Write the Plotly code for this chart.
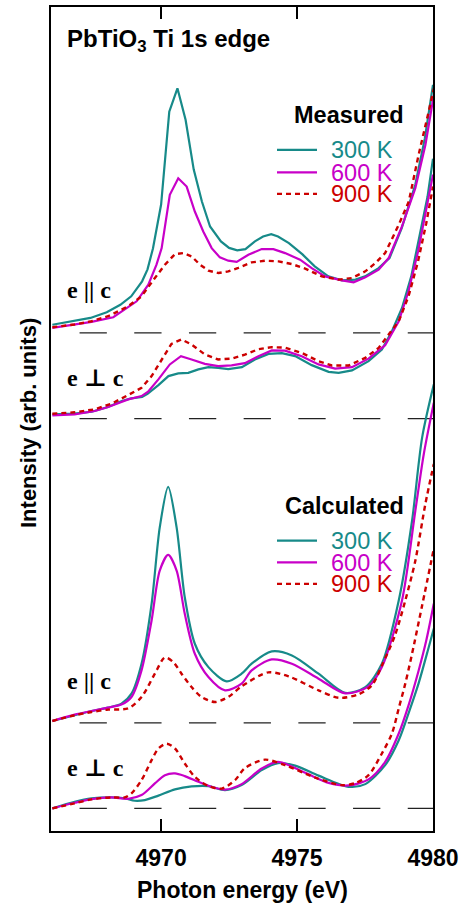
import plotly.graph_objects as go

# ---------------- data (photon energy in eV, intensity in arb. units relative to each baseline) -------------
# Measured, e || c
mpar300_E = [4966.0, 4966.8, 4967.4, 4968.0, 4968.5, 4968.9, 4969.3, 4969.5, 4969.7, 4970.0, 4970.3, 4970.6,
             4970.9, 4971.2, 4971.5, 4971.8, 4972.2, 4972.5, 4972.8, 4973.1, 4973.45, 4973.75, 4974.05, 4974.3,
             4974.7, 4975.2, 4975.65, 4976.15, 4976.65, 4977.15, 4977.5, 4978.0, 4978.4, 4978.85, 4979.35,
             4979.7, 4980.0]
mpar300_I = [0.082, 0.117, 0.150, 0.207, 0.282, 0.367, 0.517, 0.637, 0.847, 1.287, 2.217, 2.452,
             2.137, 1.637, 1.317, 1.067, 0.917, 0.852, 0.827, 0.840, 0.917, 0.967, 0.990, 0.967,
             0.900, 0.787, 0.667, 0.567, 0.527, 0.534, 0.567, 0.650, 0.750, 1.050, 1.487,
             1.950, 2.487]
mpar600_E = [4966.0, 4966.82, 4967.44, 4968.24, 4968.66, 4969.1, 4969.53, 4969.83, 4970.02, 4970.32, 4970.63,
             4970.94, 4971.24, 4971.55, 4971.86, 4972.16, 4972.47, 4972.78, 4973.21, 4973.7, 4974.13, 4974.56,
             4975.11, 4975.54, 4976.03, 4976.65, 4977.08, 4977.51, 4978.0, 4978.37, 4978.86, 4979.35,
             4979.72, 4980.03]
mpar600_I = [0.050, 0.084, 0.110, 0.157, 0.234, 0.317, 0.484, 0.684, 0.850, 1.384, 1.550,
             1.467, 1.217, 1.017, 0.850, 0.757, 0.724, 0.712, 0.784, 0.840, 0.840, 0.800,
             0.734, 0.650, 0.567, 0.527, 0.507, 0.557, 0.634, 0.750, 1.067, 1.450,
             1.884, 2.384]
mpar900_E = [4966.0, 4966.82, 4967.44, 4968.05, 4968.79, 4969.28, 4969.77, 4970.14, 4970.51, 4970.82, 4971.12,
             4971.43, 4971.74, 4972.11, 4972.47, 4972.84, 4973.33, 4973.82, 4974.32, 4974.81, 4975.3, 4975.91,
             4976.53, 4977.02, 4977.51, 4977.88, 4978.24, 4978.74, 4979.11, 4979.47, 4979.84, 4980.03]
mpar900_I = [0.057, 0.084, 0.117, 0.167, 0.267, 0.367, 0.550, 0.684, 0.790, 0.800, 0.767,
             0.684, 0.624, 0.600, 0.617, 0.652, 0.707, 0.724, 0.717, 0.690, 0.644, 0.567,
             0.534, 0.550, 0.617, 0.700, 0.800, 1.084, 1.317, 1.784, 2.217, 2.450]

# Measured, e perp c
mper300_E = [4966.0, 4966.8, 4967.45, 4968.05, 4968.55, 4968.9, 4969.3, 4969.5, 4969.9, 4970.27, 4970.63,
             4971.0, 4971.37, 4971.74, 4972.1, 4972.47, 4972.97, 4973.45, 4973.95, 4974.44, 4974.93, 4975.54,
             4976.16, 4976.53, 4977.02, 4977.63, 4978.12, 4978.49, 4978.86, 4979.2, 4979.5, 4979.8, 4980.0]
mper300_I = [0.044, 0.050, 0.070, 0.117, 0.177, 0.204, 0.217, 0.250, 0.337, 0.427, 0.454,
             0.460, 0.494, 0.517, 0.510, 0.497, 0.517, 0.594, 0.650, 0.657, 0.627, 0.537,
             0.470, 0.460, 0.484, 0.577, 0.694, 0.877, 1.110, 1.427, 1.827, 2.227, 2.607]
mper600_E = [4966.0, 4966.82, 4967.56, 4968.05, 4968.79, 4969.28, 4969.52, 4969.9, 4970.32, 4970.73, 4971.12,
             4971.61, 4972.1, 4972.59, 4973.08, 4973.58, 4974.07, 4974.56, 4975.17, 4975.79, 4976.4, 4977.02,
             4977.63, 4978.24, 4978.74, 4979.1, 4979.45, 4979.75, 4980.0]
mper600_I = [0.034, 0.044, 0.077, 0.117, 0.194, 0.227, 0.270, 0.394, 0.544, 0.627, 0.594,
             0.550, 0.527, 0.534, 0.557, 0.627, 0.684, 0.682, 0.627, 0.544, 0.502, 0.517,
             0.602, 0.737, 0.977, 1.277, 1.677, 2.077, 2.447]
mper900_E = [4966.0, 4966.82, 4967.56, 4968.17, 4968.79, 4969.28, 4969.65, 4970.02, 4970.38, 4970.75, 4971.12,
             4971.61, 4972.1, 4972.59, 4973.08, 4973.58, 4974.07, 4974.56, 4975.17, 4975.79, 4976.28, 4976.9,
             4977.51, 4978.0, 4978.37, 4978.74, 4979.1, 4979.45, 4979.75, 4980.0]
mper900_I = [0.050, 0.064, 0.094, 0.150, 0.237, 0.310, 0.427, 0.594, 0.750, 0.794, 0.744,
             0.644, 0.594, 0.602, 0.642, 0.697, 0.717, 0.712, 0.660, 0.577, 0.534, 0.534,
             0.610, 0.710, 0.844, 0.977, 1.227, 1.577, 1.957, 2.327]

# Calculated, e || c
cpar300_E = [4966.0, 4966.82, 4967.44, 4968.05, 4968.54, 4968.91, 4969.28, 4969.65, 4969.95, 4970.26, 4970.57,
             4970.87, 4971.24, 4971.74, 4972.41, 4972.96, 4973.33, 4974.07, 4974.81, 4975.79, 4976.77, 4977.51,
             4978.12, 4978.74, 4979.23, 4979.6, 4980.03]
cpar300_I = [0.020, 0.077, 0.120, 0.154, 0.194, 0.294, 0.594, 1.194, 1.960, 2.367, 1.960,
             1.260, 0.794, 0.560, 0.417, 0.494, 0.594, 0.717, 0.677, 0.494, 0.302, 0.360,
             0.594, 1.227, 2.027, 2.860, 3.394]
cpar600_E = [4966.0, 4966.82, 4967.44, 4968.05, 4968.54, 4968.91, 4969.28, 4969.65, 4969.95, 4970.26, 4970.57,
             4970.87, 4971.24, 4971.74, 4972.35, 4972.96, 4973.33, 4974.07, 4974.81, 4975.79, 4976.77, 4977.63,
             4978.12, 4978.86, 4979.35, 4979.66, 4980.03]
cpar600_I = [0.020, 0.084, 0.120, 0.154, 0.184, 0.260, 0.527, 1.027, 1.527, 1.684, 1.527,
             1.094, 0.694, 0.460, 0.327, 0.394, 0.527, 0.637, 0.594, 0.444, 0.297, 0.367,
             0.560, 1.227, 2.127, 2.694, 3.210]
cpar900_E = [4966.0, 4966.82, 4967.44, 4968.05, 4968.79, 4969.28, 4969.77, 4970.14, 4970.45, 4970.75, 4971.12,
             4971.49, 4971.98, 4972.47, 4972.96, 4973.94, 4974.69, 4975.79, 4976.53, 4977.26, 4977.75, 4978.12,
             4978.6, 4978.98, 4979.35, 4979.72, 4980.03]
cpar900_I = [0.020, 0.077, 0.110, 0.134, 0.147, 0.260, 0.494, 0.657, 0.610, 0.494, 0.360,
             0.260, 0.210, 0.260, 0.367, 0.507, 0.467, 0.327, 0.252, 0.287, 0.377, 0.577,
             0.877, 1.227, 1.627, 2.197, 2.597]

# Calculated, e perp c
cper300_E = [4966.0, 4966.82, 4967.44, 4968.17, 4968.66, 4969.03, 4969.4, 4969.9, 4970.51, 4971.12, 4971.74,
             4972.35, 4972.96, 4973.7, 4974.3, 4974.93, 4975.79, 4976.9, 4977.51, 4978.24, 4978.74, 4979.1,
             4979.47, 4979.84, 4980.03]
cper300_I = [0.000, 0.066, 0.100, 0.110, 0.100, 0.076, 0.083, 0.128, 0.190, 0.220, 0.223,
             0.183, 0.233, 0.383, 0.453, 0.428, 0.328, 0.216, 0.243, 0.433, 0.683, 0.953,
             1.253, 1.613, 1.803]
cper600_E = [4966.0, 4966.82, 4967.44, 4968.17, 4968.79, 4969.28, 4969.77, 4970.14, 4970.51, 4970.87, 4971.37,
             4971.86, 4972.35, 4972.96, 4973.7, 4974.3, 4975.3, 4976.16, 4976.9, 4977.63, 4978.24, 4978.74,
             4979.1, 4979.47, 4979.75, 4980.03]
cper600_I = [0.000, 0.056, 0.093, 0.110, 0.096, 0.133, 0.250, 0.333, 0.350, 0.323, 0.266,
             0.216, 0.188, 0.243, 0.400, 0.466, 0.356, 0.256, 0.230, 0.290, 0.466, 0.750,
             1.033, 1.380, 1.680, 2.053]
cper900_E = [4966.0, 4966.82, 4967.44, 4968.17, 4968.66, 4968.91, 4969.28, 4969.65, 4969.9, 4970.2, 4970.51,
             4970.87, 4971.24, 4971.74, 4972.23, 4972.72, 4973.08, 4973.82, 4974.56, 4975.67, 4976.65, 4977.14,
             4977.63, 4978.12, 4978.49, 4978.74, 4978.98, 4979.23, 4979.6, 4980.03]
cper900_I = [0.000, 0.050, 0.090, 0.110, 0.110, 0.150, 0.283, 0.483, 0.600, 0.648, 0.600,
             0.450, 0.316, 0.223, 0.198, 0.283, 0.403, 0.488, 0.433, 0.308, 0.233, 0.253,
             0.333, 0.550, 0.750, 1.003, 1.250, 1.550, 2.033, 2.603]

# vertical offsets of the four panels (baselines)
offset_meas_par = 4.993
offset_meas_perp = 4.133
offset_calc_par = 1.083
offset_calc_perp = 0.227
baseline_E = [4967.0, 4980.0]

temperatures = ["300 K", "600 K", "900 K"]
x_ticks = [4970, 4975, 4980]

# ---------------- styling ----------------
TEAL = "#178a89"
MAG = "#c800c8"
RED = "#cc0000"
colors = [TEAL, MAG, RED]
dashes = ["solid", "solid", "5px,4px"]
SANS = "Liberation Sans, Arial, Helvetica, sans-serif"
SERIF = "Liberation Serif, Times New Roman, DejaVu Serif, serif"

fig = go.Figure()

# dashed baselines
for off in [offset_meas_par, offset_meas_perp, offset_calc_par, offset_calc_perp]:
    fig.add_trace(go.Scatter(x=baseline_E, y=[off, off], mode="lines",
                             line=dict(color="#222222", width=1.3, dash="27.3px,27.4px"),
                             showlegend=False, hoverinfo="skip"))

groups = [
    (offset_meas_par, [(mpar300_E, mpar300_I), (mpar600_E, mpar600_I), (mpar900_E, mpar900_I)], "linear"),
    (offset_meas_perp, [(mper300_E, mper300_I), (mper600_E, mper600_I), (mper900_E, mper900_I)], "linear"),
    (offset_calc_par, [(cpar300_E, cpar300_I), (cpar600_E, cpar600_I), (cpar900_E, cpar900_I)], "spline"),
    (offset_calc_perp, [(cper300_E, cper300_I), (cper600_E, cper600_I), (cper900_E, cper900_I)], "spline"),
]
for off, series, shape in groups:
    for i, (E, I) in enumerate(series):
        fig.add_trace(go.Scatter(
            x=E, y=[v + off for v in I], mode="lines",
            line=dict(color=colors[i], width=2.2 if i < 2 else 2.4, dash=dashes[i], shape=shape,
                      smoothing=0.8 if shape == "spline" else None),
            showlegend=False, name=temperatures[i]))

# ---------------- layout ----------------
X0, X1 = 51, 433
Y0, Y1 = 5, 831
def px(xp):
    return (xp - X0) / (X1 - X0)
def py(yp):
    return (Y1 - yp) / (Y1 - Y0)

annotations = []
shapes = []
annotations.append(dict(text="<b>PbTiO<sub>3</sub> Ti 1s edge</b>", x=px(65), y=py(39), xref="paper", yref="paper",
                        xanchor="left", yanchor="middle", showarrow=False,
                        font=dict(family=SANS, size=24, color="black")))

for head, head_y, rows in [("Measured", 113.5, [148.3, 170.7, 192.3]),
                           ("Calculated", 505, [540, 561.7, 583.3])]:
    annotations.append(dict(text="<b>%s</b>" % head, x=px(406), y=py(head_y), xref="paper", yref="paper",
                            xanchor="right", yanchor="middle", showarrow=False,
                            font=dict(family=SANS, size=23.5, color="black")))
    for i, ry in enumerate(rows):
        shapes.append(dict(type="line", xref="paper", yref="paper", x0=px(277), x1=px(317), y0=py(ry), y1=py(ry),
                           line=dict(color=colors[i], width=2.2, dash=dashes[i] if i == 2 else "solid")))
        annotations.append(dict(text=temperatures[i], x=px(329), y=py(ry), xref="paper", yref="paper",
                                xanchor="left", yanchor="middle", showarrow=False, height=21,
                                font=dict(family=SANS, size=23.5, color=colors[i])))

for txt, ly in [("<b>e || c</b>", 289), ("<b>e ⊥ c</b>", 376.7), ("<b>e || c</b>", 680.7), ("<b>e ⊥ c</b>", 767.7)]:
    annotations.append(dict(text=txt, x=px(65), y=py(ly), xref="paper", yref="paper",
                            xanchor="left", yanchor="middle", showarrow=False,
                            font=dict(family=SERIF, size=24, color="black")))

annotations.append(dict(text="<b>Intensity (arb. units)</b>", x=px(29), y=py(422), xref="paper", yref="paper",
                        xanchor="center", yanchor="middle", textangle=-90, showarrow=False,
                        font=dict(family=SANS, size=22, color="black")))
annotations.append(dict(text="<b>Photon energy (eV)</b>", x=px(242), y=py(890), xref="paper", yref="paper",
                        xanchor="center", yanchor="middle", showarrow=False,
                        font=dict(family=SANS, size=23, color="black")))

fig.update_layout(
    width=471, height=906,
    margin=dict(l=X0, r=471 - X1, t=Y0, b=906 - Y1, pad=0),
    paper_bgcolor="white", plot_bgcolor="white",
    showlegend=False, hovermode=False,
    annotations=annotations, shapes=shapes,
    xaxis=dict(range=[4965.95, 4980.0], tickvals=x_ticks, ticktext=[str(t) for t in x_ticks],
               ticks="inside", ticklen=12, tickwidth=2, tickcolor="black", ticklabelstandoff=5,
               showline=True, linewidth=2, linecolor="black", mirror="ticks",
               showgrid=False, zeroline=False,
               tickfont=dict(family=SANS, size=23, color="black", weight="bold")),
    yaxis=dict(range=[0, 8.26], showticklabels=False, ticks="",
               showline=True, linewidth=2, linecolor="black", mirror=True,
               showgrid=False, zeroline=False),
)

fig.write_html("out.html", config={"displayModeBar": False},
               post_script="document.body.style.margin='0';document.body.style.padding='0';")
